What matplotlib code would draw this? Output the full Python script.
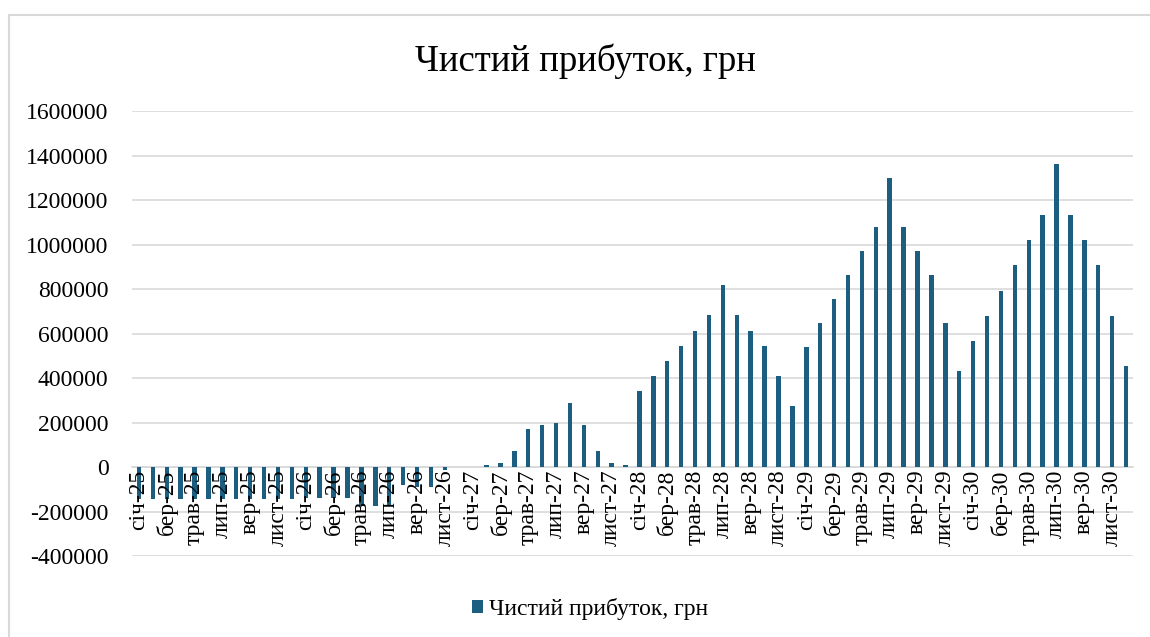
import matplotlib
matplotlib.use("Agg")
import matplotlib.pyplot as plt
from matplotlib.patches import Rectangle
import numpy as np

plt.rcParams['font.family'] = ['Liberation Serif', 'DejaVu Serif']

title = "Чистий прибуток, грн"
series_name = "Чистий прибуток, грн"
month_abbr = ["січ", "лют", "бер", "квіт", "трав", "чер",
              "лип", "серп", "вер", "жовт", "лист", "груд"]
years = ["25", "26", "27", "28", "29", "30"]
categories = [f"{m}-{y}" for y in years for m in month_abbr]

values_2025 = [-145000, -145000, -145000, -145000, -145000, -145000,
               -145000, -145000, -145000, -145000, -145000, -145000]
values_2026 = [-138000, -138000, -138000, -138000, -177000, -177000,
               -177000, -80000, -88000, -90000, -15000, 0]
values_2027 = [0, 9000, 16000, 74000, 173000, 190000,
               198000, 289000, 190000, 74000, 16000, 10000]
values_2028 = [340000, 407000, 476000, 545000, 613000, 682000,
               819000, 682000, 613000, 545000, 407000, 272000]
values_2029 = [539000, 648000, 756000, 864000, 972000, 1080000,
               1297000, 1080000, 972000, 864000, 647000, 431000]
values_2030 = [565000, 679000, 792000, 906000, 1020000, 1134000,
               1360000, 1134000, 1020000, 906000, 679000, 452000]
values = values_2025 + values_2026 + values_2027 + values_2028 + values_2029 + values_2030

y_ticks = [-400000, -200000, 0, 200000, 400000, 600000, 800000,
           1000000, 1200000, 1400000, 1600000]

bar_color = "#1b5e80"
grid_color = "#d9d9d9"

fig = plt.figure(figsize=(11.5, 6.37), dpi=100)
ax = fig.add_axes([132/1150, 1-556/637, (1133-132)/1150, (556-111)/637])

x = np.arange(len(categories))
ax.bar(x, values, width=0.32, color=bar_color, label=series_name, zorder=1)

ax.set_ylim(-400000, 1600000)
ax.set_xlim(-0.5, len(categories) - 0.5)
ax.set_yticks(y_ticks)
ax.set_yticklabels([str(v) for v in y_ticks], fontsize=17)
ax.yaxis.grid(True, color=grid_color, linewidth=1.2)
ax.yaxis.set_zorder(0.5)
ax.xaxis.set_zorder(2)
ax.tick_params(axis='y', length=0, pad=17)

for s in ["top", "right", "left"]:
    ax.spines[s].set_visible(False)
ax.spines["bottom"].set_position(("data", 0))
ax.spines["bottom"].set_color(grid_color)
ax.spines["bottom"].set_linewidth(1.2)
ax.spines["bottom"].set_zorder(0.6)

ax.set_xticks(x[::2])
ax.set_xticklabels(categories[::2], rotation=90, fontsize=17, va='top', ha='center')
ax.tick_params(axis='x', length=0, pad=2)

fig.text(585/1150, 1-61/637, title, fontsize=26.5, ha='center', va='center')

fig.legend(loc='center', bbox_to_anchor=(590/1150, 1-609/637), ncol=1, frameon=False,
           fontsize=17, handlelength=0.45, handleheight=0.45, handletextpad=0.25)

fig.patches.append(Rectangle((9/1150, 0-0.01), 1.2, 1-15/637+0.01, transform=fig.transFigure,
                             fill=False, edgecolor="#d9d9d9", linewidth=1.5))

fig.savefig("out.png", dpi=100)
